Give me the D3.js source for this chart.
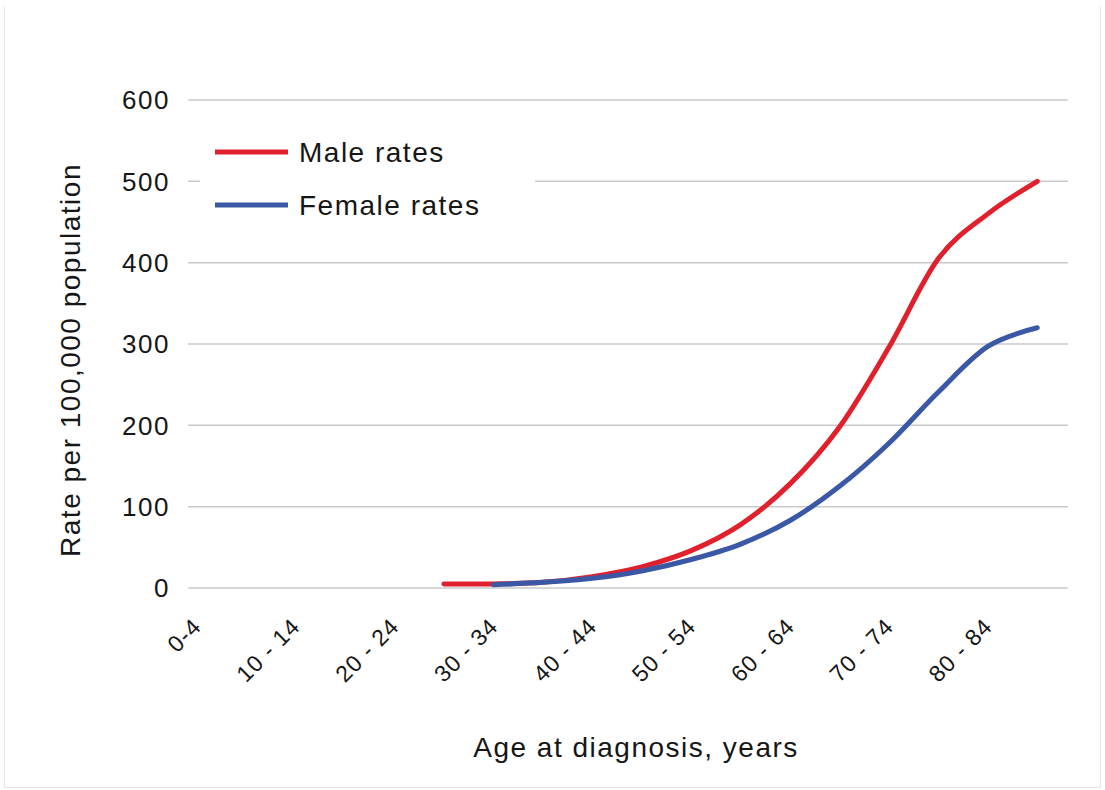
<!DOCTYPE html>
<html>
<head>
<meta charset="utf-8">
<script src="https://cdn.jsdelivr.net/npm/d3@7/dist/d3.min.js"></script>
<style>
  html, body { margin: 0; padding: 0; background: #fff; }
  svg { display: block; }
  text { font-family: "Liberation Sans", Arial, sans-serif; fill: #161616; }
</style>
</head>
<body>
<script>
// Age groups on the category axis
const ageGroups = ["0-4", "5 - 9", "10 - 14", "15 - 19", "20 - 24", "25 - 29", "30 - 34",
  "35 - 39", "40 - 44", "45 - 49", "50 - 54", "55 - 59", "60 - 64", "65 - 69",
  "70 - 74", "75 - 79", "80 - 84", "85+"];
// Only every other group is labelled
const shownLabels = ["0-4", "10 - 14", "20 - 24", "30 - 34", "40 - 44", "50 - 54",
  "60 - 64", "70 - 74", "80 - 84"];

// Incidence rates per 100,000 (null = no data for that age group)
const maleRates = [null, null, null, null, null, 5, 5, 7, 14, 26, 46, 78, 128, 198, 296, 405, 460, 500];
const femaleRates = [null, null, null, null, null, null, 4, 7, 12, 21, 35, 54, 83, 125, 178, 241, 297, 320];

const yTicks = [0, 100, 200, 300, 400, 500, 600];

const seriesNames = ["Male rates", "Female rates"];
const seriesColors = ["#e0202c", "#3b58a6"];

const W = 1105, H = 790;
const svg = d3.select("body").append("svg").attr("width", W).attr("height", H);

// faint frame on the left, right and bottom edges
const frame = svg.append("g").attr("stroke", "#e2e2e2").attr("stroke-width", 1);
frame.append("line").attr("x1", 4.5).attr("x2", 4.5).attr("y1", 7).attr("y2", 787.5);
frame.append("line").attr("x1", 4.5).attr("x2", W - 4.5).attr("y1", 787.5).attr("y2", 787.5);
frame.append("line").attr("x1", W - 4.5).attr("x2", W - 4.5).attr("y1", 7).attr("y2", 787.5);

const plotLeft = 188, plotRight = 1068, plotTop = 100, plotBottom = 588;

const y = d3.scaleLinear().domain([0, 600]).range([plotBottom, plotTop]);
const x = d3.scalePoint().domain(ageGroups).range([172, 1062]).padding(0.5);

// horizontal gridlines
svg.append("g").selectAll("line").data(yTicks).join("line")
  .attr("x1", plotLeft).attr("x2", plotRight)
  .attr("y1", d => y(d)).attr("y2", d => y(d))
  .attr("stroke", "#c9c9c9").attr("stroke-width", 1.5);

// y tick labels
svg.append("g").selectAll("text").data(yTicks).join("text")
  .attr("x", 170).attr("y", d => y(d))
  .attr("dy", "0.36em")
  .attr("text-anchor", "end")
  .style("font-size", "26px").style("letter-spacing", "1.5px")
  .text(d => d);

// rotated category labels
svg.append("g").selectAll("text").data(shownLabels).join("text")
  .attr("text-anchor", "end")
  .attr("transform", d => `translate(${x(d) + 6},${plotBottom + 40}) rotate(-45)`)
  .style("font-size", "23px").style("letter-spacing", "1px")
  .text(d => d);

// axis titles
svg.append("text")
  .attr("x", 636).attr("y", 757)
  .attr("text-anchor", "middle")
  .style("font-size", "28px").style("letter-spacing", "1.5px")
  .text("Age at diagnosis, years");

svg.append("text")
  .attr("transform", "translate(80,360) rotate(-90)")
  .attr("text-anchor", "middle")
  .style("font-size", "28px").style("letter-spacing", "1.5px")
  .text("Rate per 100,000 population");

// smoothed series lines
const line = d3.line()
  .defined(d => d.v != null)
  .x(d => x(d.g))
  .y(d => y(d.v))
  .curve(d3.curveCardinal.tension(0));

[maleRates, femaleRates].forEach((vals, i) => {
  const pts = ageGroups.map((g, k) => ({ g, v: vals[k] })).filter(d => d.v != null);
  svg.append("path")
    .datum(pts)
    .attr("d", line)
    .attr("fill", "none")
    .attr("stroke", seriesColors[i])
    .attr("stroke-width", 5)
    .attr("stroke-linecap", "round")
    .attr("stroke-linejoin", "round");
});

// legend
const legend = svg.append("g");
legend.append("rect")
  .attr("x", 200).attr("y", 118).attr("width", 335).attr("height", 124)
  .attr("fill", "#fff");
seriesNames.forEach((name, i) => {
  const cy = 152 + i * 53;
  legend.append("line")
    .attr("x1", 215).attr("x2", 288).attr("y1", cy).attr("y2", cy)
    .attr("stroke", seriesColors[i]).attr("stroke-width", 5);
  legend.append("text")
    .attr("x", 299).attr("y", cy).attr("dy", "0.36em")
    .style("font-size", "28px").style("letter-spacing", "1.5px")
    .text(name);
});
</script>
</body>
</html>
